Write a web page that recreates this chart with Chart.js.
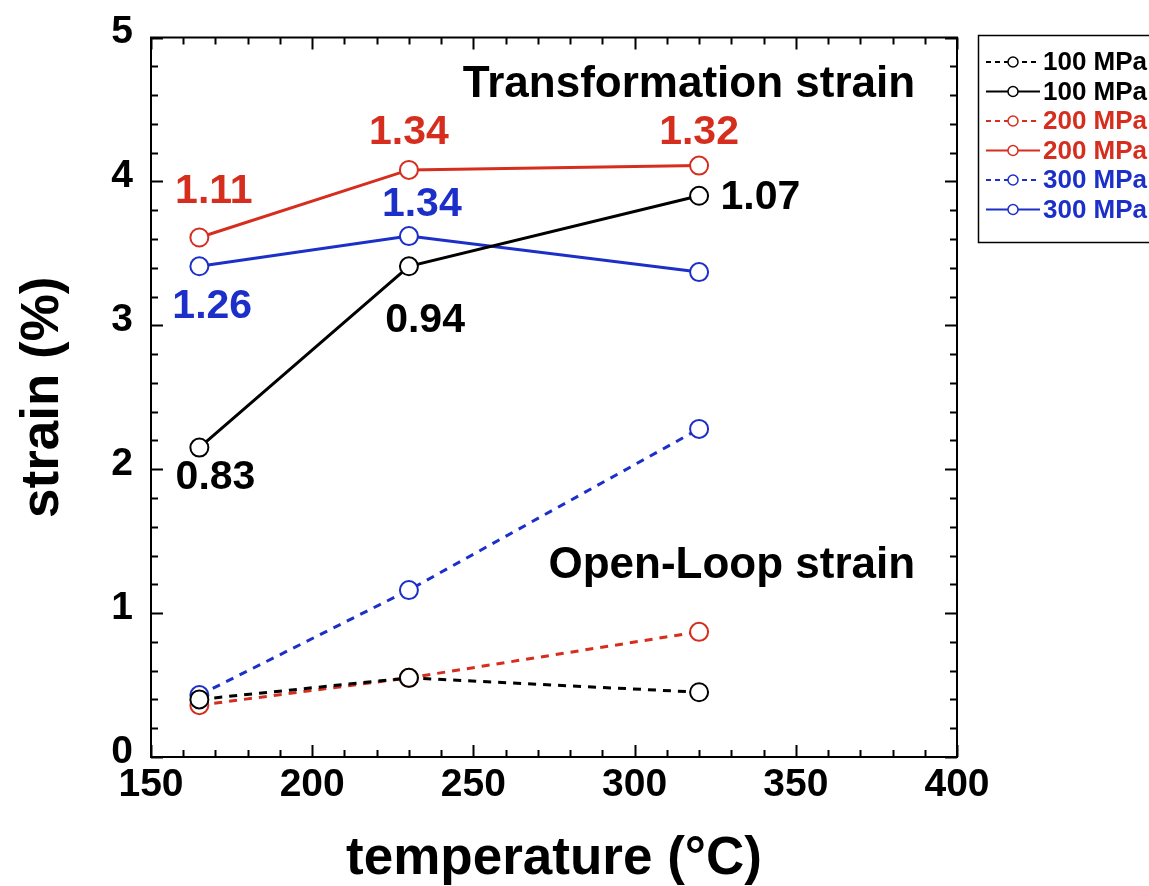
<!DOCTYPE html>
<html>
<head>
<meta charset="utf-8">
<script src="https://cdn.jsdelivr.net/npm/chart.js@4.4.1/dist/chart.umd.min.js"></script>
<style>
  body { margin: 0; background: #fff; }
  #wrap { width: 1149px; height: 886px; }
</style>
</head>
<body>
<div id="wrap"><canvas id="strainChart" width="1149" height="886"></canvas></div>
<script>
// test temperatures (°C)
const temperatures = [165, 230, 320];

// open-loop strain (%)
const openLoop100 = [0.40, 0.55, 0.45];
const openLoop200 = [0.36, 0.55, 0.87];
const openLoop300 = [0.43, 1.16, 2.28];

// transformation strain (%)
const transform100 = [2.15, 3.41, 3.90];
const transform200 = [3.61, 4.08, 4.11];
const transform300 = [3.41, 3.62, 3.37];

const seriesLabels = ['100 MPa', '100 MPa', '200 MPa', '200 MPa', '300 MPa', '300 MPa'];

// axis ticks
const xTicks = [150, 200, 250, 300, 350, 400];
const yTicks = [0, 1, 2, 3, 4, 5];

// text notes placed in data coordinates
const noteTexts = ['Transformation strain', 'Open-Loop strain',
                   '1.11', '1.34', '1.32', '1.34', '1.26', '0.94', '0.83', '1.07'];
const noteX = [387, 387, 169.5, 230, 320, 234, 169, 235, 170, 339];
const noteY = [4.67, 1.33, 3.93, 4.34, 4.34, 3.84, 3.13, 3.03, 1.94, 3.89];

const FONT = "'Liberation Sans', Arial, sans-serif";
const BLACK = '#000000';
const RED = '#d62e1e';
const BLUE = '#1c2fc8';

const noteColors = [BLACK, BLACK, RED, RED, RED, BLUE, BLUE, BLACK, BLACK, BLACK];
const noteAlign = ['right', 'right', 'center', 'center', 'center', 'center', 'center', 'center', 'center', 'center'];
const noteSize = [44, 44, 41, 41, 41, 41, 41, 41, 41, 41];

function serie(idx, valores, color, discontinua) {
    return {
        label: seriesLabels[idx],
        data: temperatures.map((t, i) => ({ x: t, y: valores[i] })),
        borderColor: color,
        backgroundColor: '#ffffff',
        borderWidth: 3,
        borderDash: discontinua ? [8, 7] : [],
        pointRadius: 9,
        pointBorderWidth: 2,
        pointBackgroundColor: '#ffffff',
        pointBorderColor: color,
        tension: 0
    };
}

// frame with inward major/minor ticks on all four sides
const marcoPlugin = {
    id: 'marco',
    afterDatasetsDraw(chart) {
        const { ctx, chartArea: a, scales: { x, y } } = chart;
        ctx.save();
        ctx.strokeStyle = '#000';
        ctx.lineWidth = 2;
        ctx.strokeRect(a.left, a.top, a.right - a.left, a.bottom - a.top);
        ctx.beginPath();
        const xs = x.ticks.map(t => t.value);
        for (let i = 0; i < xs.length; i++) {
            const px = Math.round(x.getPixelForValue(xs[i])) + 0.5;
            ctx.moveTo(px, a.bottom); ctx.lineTo(px, a.bottom - 12);
            ctx.moveTo(px, a.top); ctx.lineTo(px, a.top + 12);
            if (i < xs.length - 1) {
                for (let k = 1; k < 5; k++) {
                    const pm = Math.round(x.getPixelForValue(xs[i] + (xs[i + 1] - xs[i]) * k / 5)) + 0.5;
                    ctx.moveTo(pm, a.bottom); ctx.lineTo(pm, a.bottom - 7);
                    ctx.moveTo(pm, a.top); ctx.lineTo(pm, a.top + 7);
                }
            }
        }
        const ys = y.ticks.map(t => t.value);
        for (let i = 0; i < ys.length; i++) {
            const py = Math.round(y.getPixelForValue(ys[i])) + 0.5;
            ctx.moveTo(a.left, py); ctx.lineTo(a.left + 12, py);
            ctx.moveTo(a.right, py); ctx.lineTo(a.right - 12, py);
            if (i < ys.length - 1) {
                for (let k = 1; k < 5; k++) {
                    const pm = Math.round(y.getPixelForValue(ys[i] + (ys[i + 1] - ys[i]) * k / 5)) + 0.5;
                    ctx.moveTo(a.left, pm); ctx.lineTo(a.left + 7, pm);
                    ctx.moveTo(a.right, pm); ctx.lineTo(a.right - 7, pm);
                }
            }
        }
        ctx.stroke();
        ctx.restore();
    }
};

// value notes and section titles
const notasPlugin = {
    id: 'notas',
    afterDatasetsDraw(chart) {
        const { ctx, scales: { x, y } } = chart;
        ctx.save();
        ctx.textBaseline = 'middle';
        noteTexts.forEach((txt, i) => {
            ctx.font = `bold ${noteSize[i]}px ${FONT}`;
            ctx.fillStyle = noteColors[i];
            ctx.textAlign = noteAlign[i];
            ctx.fillText(txt, x.getPixelForValue(noteX[i]), y.getPixelForValue(noteY[i]));
        });
        ctx.restore();
    }
};

// boxed legend at the right edge
const leyendaPlugin = {
    id: 'leyenda',
    afterDraw(chart) {
        const { ctx } = chart;
        const x0 = 978, y0 = 35, alto = 207;
        ctx.save();
        ctx.strokeStyle = '#000';
        ctx.lineWidth = 1.5;
        ctx.strokeRect(x0 + 0.5, y0 + 0.5, 220, alto);
        chart.data.datasets.forEach((ds, i) => {
            const yy = 62 + i * 29.5;
            ctx.strokeStyle = ds.borderColor;
            ctx.lineWidth = 2;
            ctx.setLineDash(ds.borderDash.length ? [5, 4] : []);
            ctx.beginPath();
            ctx.moveTo(986, yy); ctx.lineTo(1040, yy);
            ctx.stroke();
            ctx.setLineDash([]);
            ctx.lineWidth = 1.5;
            ctx.fillStyle = '#fff';
            ctx.beginPath();
            ctx.arc(1013, yy, 5, 0, Math.PI * 2);
            ctx.fill();
            ctx.stroke();
            ctx.fillStyle = ds.borderColor;
            ctx.font = `bold 26px ${FONT}`;
            ctx.textAlign = 'left';
            ctx.textBaseline = 'middle';
            ctx.fillText(ds.label, 1043, yy + 1);
        });
        ctx.restore();
    }
};

const ctx = document.getElementById('strainChart').getContext('2d');
new Chart(ctx, {
    type: 'line',
    data: {
        datasets: [
            serie(0, openLoop100, BLACK, true),
            serie(1, transform100, BLACK, false),
            serie(2, openLoop200, RED, true),
            serie(3, transform200, RED, false),
            serie(4, openLoop300, BLUE, true),
            serie(5, transform300, BLUE, false)
        ]
    },
    options: {
        responsive: false,
        animation: false,
        layout: { padding: { left: 0, top: 35, right: 192, bottom: 0 } },
        plugins: { legend: { display: false }, tooltip: { enabled: false } },
        scales: {
            x: {
                type: 'linear',
                min: xTicks[0],
                max: xTicks[xTicks.length - 1],
                afterBuildTicks: s => { s.ticks = xTicks.map(v => ({ value: v })); },
                afterFit: s => { s.height = 129; },
                grid: { display: false, drawTicks: false },
                border: { display: false },
                ticks: { color: '#000', padding: 9, font: { family: FONT, size: 39, weight: 'bold', lineHeight: 1 } },
                title: {
                    display: true, text: 'temperature (°C)', color: '#000',
                    padding: { top: 0, bottom: 0 },
                    font: { family: FONT, size: 53, weight: 'bold', lineHeight: 1 }
                }
            },
            y: {
                type: 'linear',
                min: yTicks[0],
                max: yTicks[yTicks.length - 1],
                afterBuildTicks: s => { s.ticks = yTicks.map(v => ({ value: v })); },
                afterFit: s => { s.width = 151; },
                grid: { display: false, drawTicks: false },
                border: { display: false },
                ticks: { color: '#000', padding: 18, labelOffset: -5, font: { family: FONT, size: 39, weight: 'bold', lineHeight: 1 } },
                title: {
                    display: true, text: 'strain (%)', color: '#000',
                    padding: { top: 17, bottom: 0 },
                    font: { family: FONT, size: 53, weight: 'bold', lineHeight: 1 }
                }
            }
        }
    },
    plugins: [marcoPlugin, notasPlugin, leyendaPlugin]
});
</script>
</body>
</html>
